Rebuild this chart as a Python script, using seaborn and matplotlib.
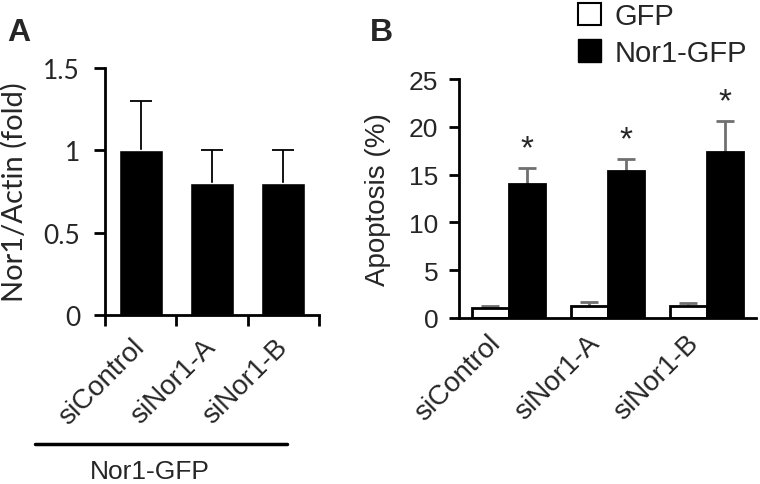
import matplotlib
matplotlib.use("Agg")
import matplotlib.pyplot as plt
import matplotlib.transforms as mtrans
import seaborn as sns
import pandas as pd
import numpy as np
from matplotlib.patches import Patch
from matplotlib.lines import Line2D

# ---- data ----
categories = ["siControl", "siNor1-A", "siNor1-B"]
nor1_actin = [1.0, 0.8, 0.8]
nor1_actin_err = [0.3, 0.2, 0.2]

groups = ["GFP", "Nor1-GFP"]
apoptosis_gfp = [1.0, 1.3, 1.3]
apoptosis_gfp_err = [0.25, 0.4, 0.3]
apoptosis_nor1 = [14.0, 15.4, 17.4]
apoptosis_nor1_err = [1.7, 1.2, 3.2]
significant = [True, True, True]

yticks_a = [0, 0.5, 1, 1.5]
yticklabels_a = ["0", "0.5", "1", "1.5"]
yticks_b = [0, 5, 10, 15, 20, 25]

sns.set_theme(style="white")
plt.rcParams['font.family'] = ['Liberation Sans', 'DejaVu Sans']

W, H = 760, 485
fig = plt.figure(figsize=(W / 100, H / 100), dpi=100)

def box(l, r, t, b):
    return [l / W, 1 - b / H, (r - l) / W, (b - t) / H]

shift = mtrans.ScaledTranslation(-12 / 100, 4 / 100, fig.dpi_scale_trans)


def upper_errorbars(ax, patches, errors, color, lw):
    for p, e in zip(patches, errors):
        xc = p.get_x() + p.get_width() / 2
        top = p.get_height()
        half = p.get_width() / 4
        ax.vlines(xc, top, top + e, color=color, lw=lw, zorder=1)
        ax.hlines(top + e, xc - half, xc + half, color=color, lw=lw, zorder=1)


# ---------- Panel A ----------
axA = fig.add_axes(box(105, 319, 69, 316))
dfA = pd.DataFrame({"cond": categories, "val": nor1_actin})
sns.barplot(data=dfA, x="cond", y="val", order=categories, color="black",
            width=0.62, errorbar=None, ax=axA, saturation=1)
for p in axA.patches:
    p.set_zorder(2)
upper_errorbars(axA, axA.patches, nor1_actin_err, "black", 1.3)
axA.set_xlim(-0.5, 2.5)
axA.set_ylim(0, 1.5)
axA.set_yticks(yticks_a)
axA.set_yticklabels(yticklabels_a, family=["Lato", "DejaVu Sans"], fontsize=19)
axA.set_xticks(range(len(categories)))
axA.set_xticklabels(categories, rotation=45, ha="right", va="center",
                    rotation_mode="anchor", fontsize=20)
for t in axA.get_xticklabels():
    t.set_transform(t.get_transform() + shift)
axA.set_xticks(np.arange(-0.5, len(categories), 1.0), minor=True)
axA.tick_params(axis="x", which="major", length=0, pad=20)
axA.tick_params(axis="x", which="minor", length=8, width=2, direction="out", color="black", bottom=True)
axA.tick_params(axis="y", length=8, width=2, direction="out", color="black", left=True, pad=10)
axA.set_xlabel("")
axA.set_ylabel("Nor1/Actin (fold)", family=["Lato", "DejaVu Sans"], fontsize=21, labelpad=11)
for s in ["top", "right"]:
    axA.spines[s].set_visible(False)
for s in ["left", "bottom"]:
    axA.spines[s].set_linewidth(2)
    axA.spines[s].set_color("black")

# bracket line + label under A
fig.add_artist(Line2D([35 / W, 287 / W], [1 - 445 / H, 1 - 445 / H], color="black", lw=2.5))
fig.text(150 / W, 1 - 472 / H, "Nor1-GFP", ha="center", va="center", fontsize=19)
fig.text(7 / W, 1 - 33 / H, "A", ha="left", va="center", fontsize=23, fontweight="bold")

# ---------- Panel B ----------
axB = fig.add_axes(box(459, 756, 80, 319))
dfB = pd.DataFrame({
    "cond": categories * 2,
    "grp": [groups[0]] * 3 + [groups[1]] * 3,
    "val": apoptosis_gfp + apoptosis_nor1,
})
sns.barplot(data=dfB, x="cond", y="val", hue="grp", order=categories, hue_order=groups,
            palette={"GFP": "white", "Nor1-GFP": "black"}, edgecolor="black", linewidth=2,
            width=0.74, errorbar=None, ax=axB, saturation=1, legend=False)
errs = apoptosis_gfp_err + apoptosis_nor1_err
bars = axB.patches[:6]
for p in bars:
    p.set_zorder(2)
upper_errorbars(axB, bars, errs, "#707070", 2)
for p, e, sig in zip(bars[3:], apoptosis_nor1_err, significant):
    if sig:
        xc = p.get_x() + p.get_width() / 2
        axB.text(xc, p.get_height() + e + 2.0, "*", ha="center", va="center", fontsize=24)
axB.set_xlim(-0.5, 2.5)
axB.set_ylim(0, 25)
axB.set_yticks(yticks_b)
axB.tick_params(axis="y", length=7, width=2, direction="out", color="black", left=True,
                labelsize=19, pad=8)
axB.tick_params(axis="x", length=0, pad=18)
axB.set_xticks(range(len(categories)))
axB.set_xticklabels(categories, rotation=45, ha="right", va="center",
                    rotation_mode="anchor", fontsize=20)
for t in axB.get_xticklabels():
    t.set_transform(t.get_transform() + shift)
axB.set_xlabel("")
axB.set_ylabel("Apoptosis (%)", fontsize=20, labelpad=13)
for s in ["top", "right"]:
    axB.spines[s].set_visible(False)
for s in ["left", "bottom"]:
    axB.spines[s].set_linewidth(2)
    axB.spines[s].set_color("black")

handles = [Patch(facecolor="white", edgecolor="black", linewidth=1.5, label=groups[0]),
           Patch(facecolor="black", edgecolor="black", label=groups[1])]
fig.legend(handles=handles, loc="upper left", bbox_to_anchor=(575 / W, 1 - 0 / H),
           frameon=False, fontsize=21, handlelength=0.8, handleheight=0.8,
           handletextpad=0.45, labelspacing=0.3, borderaxespad=0, borderpad=0.1)
fig.text(370 / W, 1 - 33 / H, "B", ha="left", va="center", fontsize=23, fontweight="bold")

fig.savefig("out.png", dpi=100)
